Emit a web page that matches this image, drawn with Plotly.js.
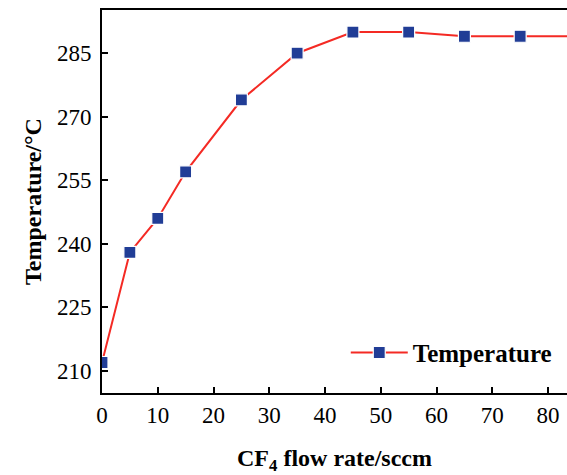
<!DOCTYPE html>
<html>
<head>
<meta charset="utf-8">
<script src="https://cdn.plot.ly/plotly-3.0.1.min.js"></script>
<style>html,body{margin:0;padding:0;background:#fff;}</style>
</head>
<body>
<div id="chart" style="width:567px;height:475px;"></div>
<script>
const flowRate = [0, 5, 10, 15, 25, 35, 45, 55, 65, 75, 85];
const temperature = [212, 238, 246, 257, 274, 285, 290, 290, 289, 289, 289];
const xTicks = [0, 10, 20, 30, 40, 50, 60, 70, 80];
const yTicks = [210, 225, 240, 255, 270, 285];

const trace = {
  x: flowRate,
  y: temperature,
  type: 'scatter',
  mode: 'lines+markers',
  name: 'Temperature',
  line: {color: '#f42a24', width: 2},
  marker: {symbol: 'square', size: 12, color: '#213d96', line: {color: '#ffffff', width: 1.2}},
  cliponaxis: true
};

const serif = '"Liberation Serif", "Times New Roman", serif';
const layout = {
  width: 567, height: 475,
  margin: {l: 102, r: 0, t: 10, b: 82},
  paper_bgcolor: '#fff', plot_bgcolor: '#fff',
  font: {family: serif, color: '#000'},
  showlegend: true,
  legend: {x: 0.978, y: 0.045, xanchor: 'right', yanchor: 'bottom', bgcolor: 'rgba(0,0,0,0)',
           itemwidth: 57,
           font: {family: serif, size: 25, color: '#000', weight: 'bold'}},
  xaxis: {
    range: [0, 83.4], tickvals: xTicks, ticktext: xTicks.map(String),
    ticks: 'inside', ticklen: 6, tickwidth: 2, tickcolor: '#000',
    showline: true, linewidth: 2, linecolor: '#000', mirror: true,
    showgrid: false, zeroline: false,
    tickfont: {family: serif, size: 23, color: '#000'},
    automargin: false,
    title: {text: 'CF<sub>4</sub> flow rate/sccm', standoff: 23,
            font: {family: serif, size: 24, color: '#000', weight: 'bold'}}
  },
  yaxis: {
    range: [204.8, 295.2], tickvals: yTicks, ticktext: yTicks.map(String),
    ticks: 'inside', ticklen: 6, tickwidth: 2, tickcolor: '#000',
    showline: true, linewidth: 2, linecolor: '#000', mirror: false,
    showgrid: false, zeroline: false,
    tickfont: {family: serif, size: 23, color: '#000'},
    ticklabelstandoff: 4,
    automargin: false,
    title: {text: 'Temperature/°C', standoff: 9,
            font: {family: serif, size: 24, color: '#000', weight: 'bold'}}
  }
};

Plotly.newPlot('chart', [trace], layout, {displayModeBar: false, staticPlot: true});
</script>
</body>
</html>
